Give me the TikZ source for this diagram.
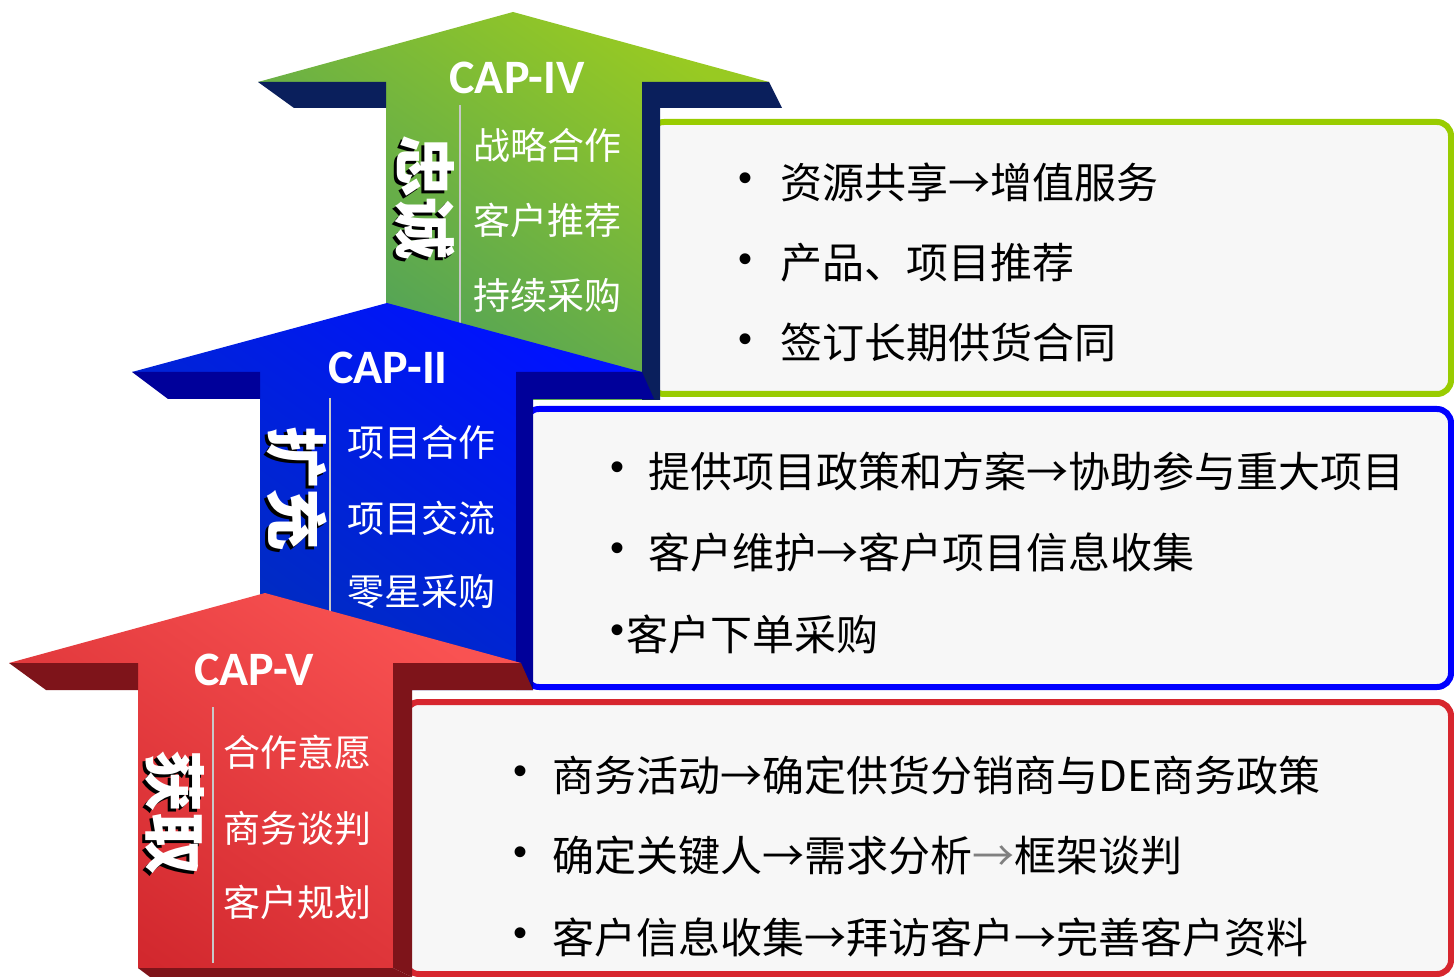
\documentclass[tikz,border=0pt]{standalone}
\usepackage{fontspec}
\newfontfamily\cjk{Noto Sans CJK SC}
\newfontfamily\capfont{Carlito}
\newfontfamily\bulfont{Liberation Sans}
\definecolor{gtop}{HTML}{98CA22}
\definecolor{gbot}{HTML}{4A9E5E}
\definecolor{gdark}{HTML}{0A1F5C}
\definecolor{btop}{HTML}{0012FF}
\definecolor{bbot}{HTML}{0030B8}
\definecolor{bdark}{HTML}{00009A}
\definecolor{rtop}{HTML}{F95252}
\definecolor{rbot}{HTML}{D2282E}
\definecolor{rdark}{HTML}{7E141A}
\definecolor{gline}{HTML}{99CC00}
\definecolor{bline}{HTML}{0000FF}
\definecolor{rline}{HTML}{D7262E}
\definecolor{boxfill}{HTML}{F7F7F7}
\definecolor{sepgray}{HTML}{C8C8C8}
\begin{document}
\begin{tikzpicture}[x=0.5pt,y=-0.5pt,
  capt/.style={font=\capfont\bfseries\fontsize{24}{24}\selectfont, text=white, inner sep=0pt},
  vlab/.style={font=\cjk\bfseries\fontsize{31}{31}\selectfont, rotate=-90, inner sep=0pt},
  wlab/.style={font=\cjk\fontsize{18.5}{20}\selectfont, text=white, inner sep=0pt},
  btxt/.style={font=\cjk\fontsize{21}{23}\selectfont, text=black, anchor=west, inner sep=0pt},
  bul/.style={font=\bulfont\fontsize{20}{22}\selectfont, text=black, inner sep=0pt},
  infobox/.style={fill=boxfill, line width=3pt, rounded corners=7pt},
  sepline/.style={draw=sepgray, line width=1pt}]
\useasboundingbox (0,0) rectangle (1454,977);
\fill[white] (0,0) rectangle (1454,977);

% ---------- green (CAP-IV) ----------
\path[infobox, draw=gline] (650,122) rectangle (1451,394);
\shade[top color=gtop, bottom color=gbot, shading angle=-35]
  (513,12) -- (769,82) -- (642,82) -- (642,400) -- (386,400) -- (386,82) -- (258,82) -- cycle;
\fill[gdark] (258,82) -- (386,82) -- (386,108) -- (294,108) -- cycle;
\fill[gdark] (642,82) -- (769,82) -- (782,108) -- (660,108) -- (660,400) -- (642,400) -- cycle;
\draw[sepline] (460,105) -- (460,340);
\node[capt] (c4) at (517,78) {CAP-IV};
\node[vlab, text=black] (v4s) at (422,201) {忠诚};
\node[vlab, text=white] (v4) at (425,198) {忠诚};
\node[wlab] (g1) at (547,145) {战略合作};
\node[wlab] (g2) at (547,220) {客户推荐};
\node[wlab] (g3) at (547,295) {持续采购};
\node[bul] (gb1) at (745,182) {•};
\node[btxt] (gt1) at (780,182) {资源共享→增值服务};
\node[bul] (gb2) at (745,263) {•};
\node[btxt] (gt2) at (780,263) {产品、项目推荐};
\node[bul] (gb3) at (745,343) {•};
\node[btxt] (gt3) at (780,343) {签订长期供货合同};

% ---------- blue (CAP-II) ----------
\path[infobox, draw=bline] (525,409) rectangle (1451,687);
\shade[top color=btop, bottom color=bbot, shading angle=-35]
  (387,303) -- (642,372) -- (516,372) -- (516,690) -- (260,690) -- (260,372) -- (132,372) -- cycle;
\fill[bdark] (132,372) -- (260,372) -- (260,399) -- (168,399) -- cycle;
\fill[bdark] (516,372) -- (642,372) -- (654,399) -- (533,399) -- (533,690) -- (516,690) -- cycle;
\draw[sepline] (330,398) -- (330,640);
\node[capt] (c2) at (388,368) {CAP-II};
\node[vlab, text=black] (v2s) at (294,492) {扩充};
\node[vlab, text=white] (v2) at (297,489) {扩充};
\node[wlab] (b1) at (421,442) {项目合作};
\node[wlab] (b2) at (421,518) {项目交流};
\node[wlab] (b3) at (421,592) {零星采购};
\node[bul] (bb1) at (617,471) {•};
\node[btxt] (bt1) at (648,471) {提供项目政策和方案→协助参与重大项目};
\node[bul] (bb2) at (617,552) {•};
\node[btxt] (bt2) at (648,552) {客户维护→客户项目信息收集};
\node[bul] (bb3) at (617,634) {•};
\node[btxt] (bt3) at (626,634) {客户下单采购};

% ---------- red (CAP-V) ----------
\path[infobox, draw=rline] (405,702) rectangle (1451,974);
\shade[top color=rtop, bottom color=rbot, shading angle=-35]
  (265,593) -- (521,663) -- (393,663) -- (393,968) -- (138,968) -- (138,663) -- (9,663) -- cycle;
\fill[rdark] (9,663) -- (138,663) -- (138,690) -- (46,690) -- cycle;
\fill[rdark] (393,663) -- (521,663) -- (533,690) -- (412,690) -- (412,977) -- (393,968) -- cycle;
\fill[rdark] (138,968) -- (393,968) -- (412,977) -- (150,977) -- cycle;
\draw[sepline] (213,707) -- (213,963);
\node[capt] (c5) at (254,670) {CAP-V};
\node[vlab, text=black] (v5s) at (172,815) {获取};
\node[vlab, text=white] (v5) at (175,812) {获取};
\node[wlab] (r1) at (297,752) {合作意愿};
\node[wlab] (r2) at (297,828) {商务谈判};
\node[wlab] (r3) at (297,902) {客户规划};
\node[bul] (rb1) at (520,775) {•};
\node[btxt] (rt1) at (552,775) {商务活动→确定供货分销商与DE商务政策};
\node[bul] (rb2) at (520,856) {•};
\node[btxt] (rt2) at (552,856) {确定关键人→需求分析{\color{gray}→}框架谈判};
\node[bul] (rb3) at (520,937) {•};
\node[btxt] (rt3) at (552,937) {客户信息收集→拜访客户→完善客户资料};
\end{tikzpicture}
\end{document}
